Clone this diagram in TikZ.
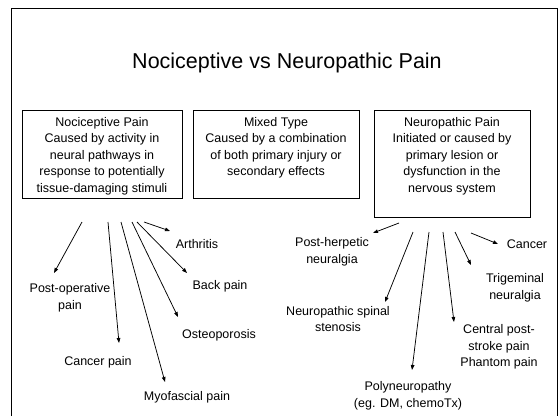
\documentclass[tikz,border=0pt]{standalone}
\usepackage{fontspec}
\setmainfont{Liberation Sans}
\usepackage{tikz}
\usetikzlibrary{arrows.meta,positioning}

\begin{document}
\begin{tikzpicture}[
  x=1pt, y=-1pt,
  font=\fontsize{12.5}{16.5}\selectfont,
  box/.style={rectangle, draw=black, line width=0.8pt, inner sep=0pt},
  boxtxt/.style={align=center, inner sep=0pt},
  lbl/.style={align=center, inner sep=0pt},
  arr/.style={-{Triangle[length=5pt,width=3.6pt]}, line width=0.75pt}
]
\useasboundingbox (0,0) rectangle (560,416);

%% frame, its bottom edge runs off the page
\draw[line width=1pt] (11,416) -- (11,8) -- (557,8) -- (557,416);

%% title
\node[font=\fontsize{21.5}{25}\selectfont] (title) at (287,63) {Nociceptive vs Neuropathic Pain};

%% the three boxes
\node[box, minimum width=160pt, minimum height=88pt] (noci) at (102,154) {};
\node[box, minimum width=166pt, minimum height=88pt] (mixed) at (276,154) {};
\node[box, minimum width=156pt, minimum height=107pt] (neuro) at (452,163.5) {};

\node[boxtxt, below=7.5pt of noci.north] (nocitxt)
  {Nociceptive Pain\\Caused by activity in\\neural pathways in\\response to potentially\\tissue-damaging stimuli};
\node[boxtxt, below=7.5pt of mixed.north] (mixedtxt)
  {Mixed Type\\Caused by a combination\\of both primary injury or\\secondary effects};
\node[boxtxt, below=7.5pt of neuro.north] (neurotxt)
  {Neuropathic Pain\\Initiated or caused by\\primary lesion or\\dysfunction in the\\nervous system};

%% nociceptive examples
\node[lbl] (postop) at (70,298) {Post-operative\\pain};
\node[lbl] (cancerp) at (98,362) {Cancer pain};
\node[lbl] (myo) at (187,397) {Myofascial pain};
\node[lbl] (osteo) at (219,335) {Osteoporosis};
\node[lbl] (back) at (220,286) {Back pain};
\node[lbl] (arth) at (197,244) {Arthritis};

%% neuropathic examples
\node[lbl] (herpes) at (332,252) {Post-herpetic\\neuralgia};
\node[lbl] (spinal) at (338,319) {Neuropathic spinal\\stenosis};
\node[lbl] (poly) at (408,396) {Polyneuropathy\\(eg. DM, chemoTx)};
\node[lbl] (central) at (499,347) {Central post-\\stroke pain\\Phantom pain};
\node[lbl] (trig) at (515,288) {Trigeminal\\neuralgia};
\node[lbl] (cancer) at (527,244) {Cancer};

%% arrow ends
\coordinate (n1) at (82,222);   \coordinate (postop-tip) at (54,273);
\coordinate (n2) at (108,222);  \coordinate (cancerp-tip) at (119,343);
\coordinate (n3) at (121,222);  \coordinate (myo-tip) at (165,382);
\coordinate (n4) at (132,222);  \coordinate (osteo-tip) at (178,317);
\coordinate (n5) at (137,222);  \coordinate (back-tip) at (187,273);
\coordinate (n6) at (144,222);  \coordinate (arth-tip) at (170,231);

\coordinate (p1) at (399,223);  \coordinate (herpes-tip) at (373,233);
\coordinate (p2) at (413,232);  \coordinate (spinal-tip) at (385,302);
\coordinate (p3) at (429,232);  \coordinate (poly-tip) at (412,370);
\coordinate (p4) at (443,232);  \coordinate (central-tip) at (454,322);
\coordinate (p5) at (455,232);  \coordinate (trig-tip) at (471,265);
\coordinate (p6) at (471,233);  \coordinate (cancer-tip) at (498,244);

%% arrows
\draw[arr] (n1) -- (postop-tip);
\draw[arr] (n2) -- (cancerp-tip);
\draw[arr] (n3) -- (myo-tip);
\draw[arr] (n4) -- (osteo-tip);
\draw[arr] (n5) -- (back-tip);
\draw[arr] (n6) -- (arth-tip);

\draw[arr] (p1) -- (herpes-tip);
\draw[arr] (p2) -- (spinal-tip);
\draw[arr] (p3) -- (poly-tip);
\draw[arr] (p4) -- (central-tip);
\draw[arr] (p5) -- (trig-tip);
\draw[arr] (p6) -- (cancer-tip);

\end{tikzpicture}
\end{document}
